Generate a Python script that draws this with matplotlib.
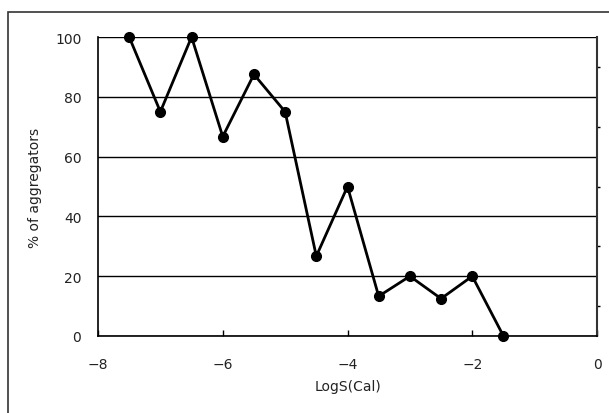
import matplotlib
matplotlib.use('Agg')
import matplotlib.pyplot as plt
from matplotlib.patches import Rectangle

# data
logs = [-7.5, -7.0, -6.5, -6.0, -5.5, -5.0, -4.5, -4.0, -3.5, -3.0, -2.5, -2.0, -1.5]
pct_agg = [100, 75, 100, 66.7, 87.5, 75, 26.7, 50, 13.3, 20, 12.5, 20, 0]
xticks = [-8, -6, -4, -2, 0]
yticks = [0, 20, 40, 60, 80, 100]
minor_y = [10, 30, 50, 70, 90]

plt.rcParams['font.family'] = ['DejaVu Sans']

fig = plt.figure(figsize=(6.09, 4.14), dpi=100)
ax = fig.add_axes([98/609, 1 - 337/414, (597-98)/609, (337-38)/414])

# outer chart border (cut off on the right and bottom in the original)
fig.patches.append(Rectangle((8/609, -0.05), 1.1, 0.05 + (1 - 13/414),
                             transform=fig.transFigure, fill=False,
                             edgecolor='#333333', linewidth=1.2, clip_on=False))

ax.plot(logs, pct_agg, color='black', linewidth=2.0, marker='o',
        markersize=7, zorder=3, clip_on=False)

ax.set_xlim(-8, 0)
ax.set_ylim(0, 100)
ax.set_xticks(xticks)
ax.set_yticks(yticks)
ax.set_yticks(minor_y, minor=True)
ax.yaxis.grid(True, which='major', color='black', linewidth=1)
ax.set_axisbelow(True)

ax.spines['top'].set_visible(False)
ax.spines['right'].set_color('#333333')
ax.spines['right'].set_linewidth(1.5)
for s in ['left', 'bottom']:
    ax.spines[s].set_color('black')
    ax.spines[s].set_linewidth(1.2)

ax.tick_params(axis='x', direction='in', length=4, width=1, labelsize=10,
               pad=15, colors='black', labelcolor='#222222')
ax.tick_params(axis='y', which='major', length=0, labelsize=10, pad=12,
               labelcolor='#222222')
ax.tick_params(axis='y', which='minor', right=True, left=False,
               direction='out', length=2, width=1)

ax.set_xlabel('LogS(Cal)', fontsize=10, labelpad=6, color='#222222')
ax.set_ylabel('% of aggregators', fontsize=10, labelpad=9, color='#222222')

fig.savefig('out.png', dpi=100)
